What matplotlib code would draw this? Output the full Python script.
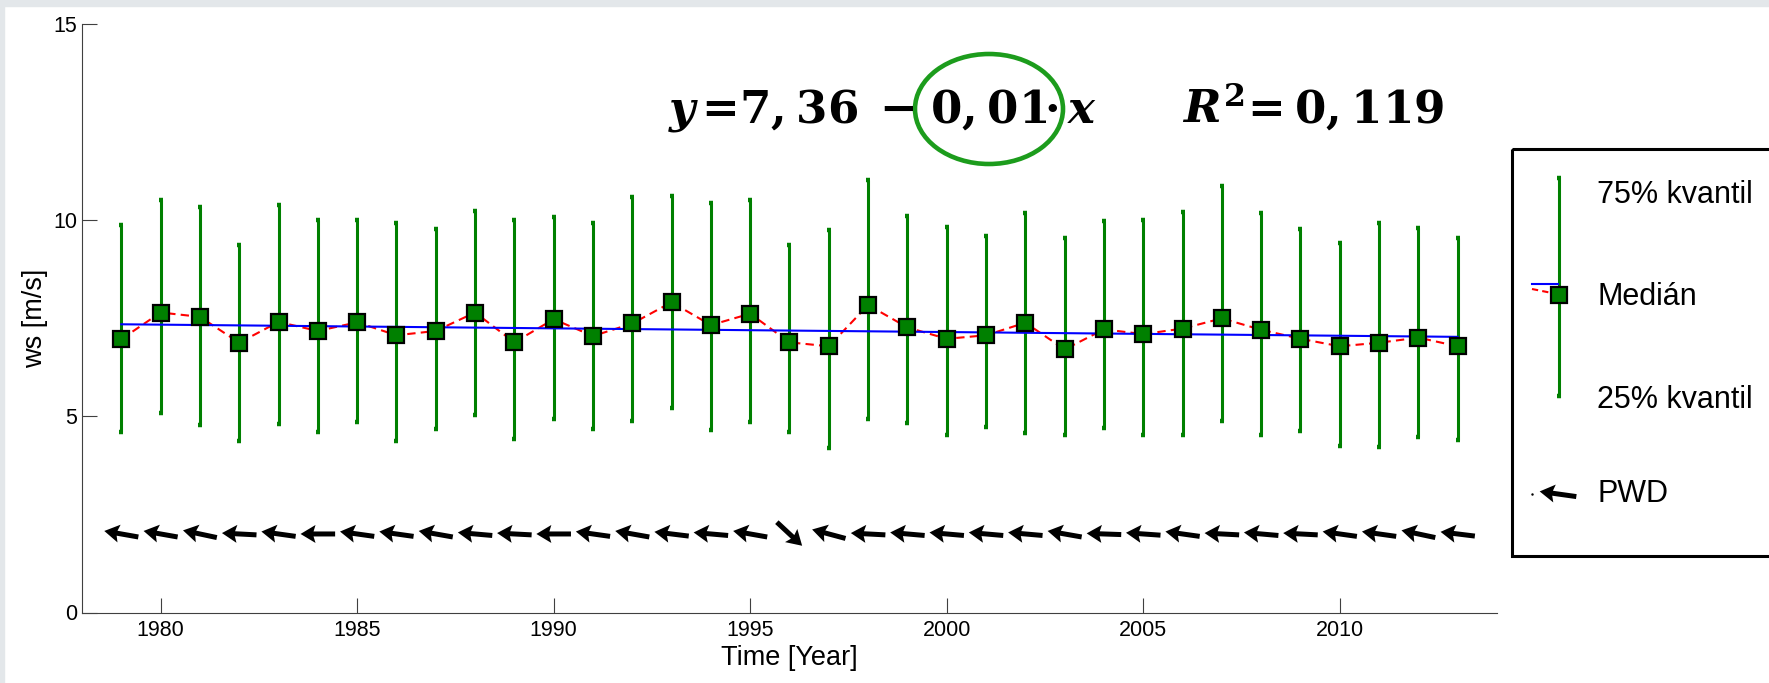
import matplotlib
matplotlib.use('Agg')
import matplotlib.pyplot as plt
import numpy as np
from matplotlib.patches import Rectangle, Ellipse

# data
years = list(range(1979, 2014))
q75 = [9.87, 10.50, 10.32, 9.36, 10.38, 10.00, 10.00, 9.93, 9.76, 10.23,
       10.00, 10.06, 9.92, 10.59, 10.61, 10.44, 10.50, 9.37, 9.74, 11.02,
       10.10, 9.83, 9.60, 10.18, 9.54, 9.98, 10.00, 10.20, 10.86, 10.18,
       9.77, 9.42, 9.91, 9.80, 9.53]
q25 = [4.59, 5.07, 4.77, 4.37, 4.80, 4.59, 4.86, 4.36, 4.67, 5.03,
       4.42, 4.94, 4.68, 4.88, 5.20, 4.64, 4.86, 4.59, 4.19, 4.93,
       4.82, 4.53, 4.72, 4.56, 4.53, 4.71, 4.53, 4.51, 4.88, 4.51,
       4.62, 4.24, 4.22, 4.48, 4.39]
median = [6.96, 7.64, 7.53, 6.87, 7.40, 7.17, 7.39, 7.06, 7.17, 7.64,
          6.88, 7.47, 7.04, 7.36, 7.90, 7.32, 7.61, 6.88, 6.78, 7.83,
          7.26, 6.97, 7.06, 7.38, 6.70, 7.21, 7.09, 7.23, 7.49, 7.20,
          6.97, 6.78, 6.87, 7.00, 6.78]
# prevailing wind direction, arrow angle in degrees (counterclockwise from east)
pwd_angle = [170, 170, 168, 177, 172, 180, 172, 172, 170, 175,
             177, 180, 172, 170, 173, 175, 170, -43, 165, 177,
             175, 175, 175, 175, 170, 178, 176, 172, 177, 175,
             177, 172, 172, 168, 173]
trend_years = [1979, 2013]
trend_vals = [7.34, 7.02]
# regression equation pieces: (text, x in px, horizontal alignment)
eq_parts = [(r'$y$', 668, 'left'), ('=', 720.5, 'center'), (r'$7,36$', 739, 'left'),
            ('\u2212', 898.5, 'center'), (r'$0,01$', 930, 'left'), ('\u00b7', 1052, 'center'),
            (r'$x$', 1067, 'left'), (r'$R^2$', 1182, 'left'), ('=', 1266.5, 'center'),
            (r'$0,119$', 1294, 'left')]
legend_labels = ['75% kvantil', 'Medián', '25% kvantil', 'PWD']

PWD_LEVEL = 2.0
ARROW_LEN = 0.88
GREEN = '#008000'
arrow_kw = dict(pivot='middle', units='dots', width=5, headwidth=3.6,
                headlength=3.0, headaxislength=2.6, color='black')

plt.rcParams['font.family'] = ['Liberation Sans', 'DejaVu Sans']
plt.rcParams['mathtext.fontset'] = 'custom'
plt.rcParams['mathtext.rm'] = 'DejaVu Serif:bold'
plt.rcParams['mathtext.it'] = 'DejaVu Serif:italic:bold'
plt.rcParams['mathtext.bf'] = 'DejaVu Serif:bold'

W, H = 1769, 683
fig = plt.figure(figsize=(W / 100, H / 100), dpi=100)
fig.patch.set_facecolor('white')
# thin grey frame of the screenshot
fig.patches.append(Rectangle((0, 1 - 6 / H), 1, 6 / H, transform=fig.transFigure,
                             color='#e3e7ea', zorder=0))
fig.patches.append(Rectangle((0, 0), 4 / W, 1, transform=fig.transFigure,
                             color='#e3e7ea', zorder=0))

ax = fig.add_axes([82 / W, 1 - 612.5 / H, (1497 - 82) / W, (612.5 - 23.5) / H])

yr = np.array(years)
med = np.array(median)
ax.errorbar(yr, med, yerr=[med - np.array(q25), np.array(q75) - med], fmt='none',
            ecolor=GREEN, elinewidth=2.2, capsize=1.7, capthick=3.2, zorder=2)
ax.plot(yr, med, color='red', lw=1.5, linestyle=(0, (4, 2.5)), zorder=3)
ax.plot(trend_years, trend_vals, color='blue', lw=1.5, zorder=3)
ax.plot(yr, med, 's', ms=11.5, mfc=GREEN, mec='black', mew=1.6, zorder=4)

ax.quiver(yr, np.full(len(yr), PWD_LEVEL), np.full(len(yr), ARROW_LEN), np.zeros(len(yr)),
          angles=pwd_angle, scale_units='x', scale=1, zorder=5, **arrow_kw)

ax.set_xlim(1978, 2014)
ax.set_ylim(0, 15)
ax.set_xticks([1980, 1985, 1990, 1995, 2000, 2005, 2010])
ax.set_yticks([0, 5, 10, 15])
ax.tick_params(direction='in', length=10.5, width=0.8, color='#404040', labelsize=15.5)
ax.tick_params(axis='x', pad=5.5)
ax.tick_params(axis='y', pad=3.5)
for s in ['top', 'right']:
    ax.spines[s].set_visible(False)
for s in ['left', 'bottom']:
    ax.spines[s].set_color('#404040')
    ax.spines[s].set_linewidth(0.8)
ax.set_xlabel('Time [Year]', fontsize=19.5, labelpad=3)
ax.set_ylabel('ws [m/s]', fontsize=19.5, labelpad=4)

# overlay in pixel coordinates for the legend, equation and highlight
ov = fig.add_axes([0, 0, 1, 1], facecolor='none')
ov.set_xlim(0, W)
ov.set_ylim(H, 0)
ov.axis('off')

for txt, x0, ha in eq_parts:
    ov.text(x0, 123, txt, fontsize=32.5, va='baseline', ha=ha,
            family='DejaVu Serif', weight='bold')
ov.add_patch(Ellipse((989, 109), 148, 110, fill=False, edgecolor='#1c9c1c', lw=3.3))

# legend box (clipped by the right edge)
ov.add_patch(Rectangle((1512, 149), 300, 407, fill=False, edgecolor='black', lw=2.2,
                       clip_on=False))
lx = 1558.7
ov.plot([lx, lx], [178, 396], color=GREEN, lw=2.2)
ov.plot([lx, lx], [178, 396], '_', color=GREEN, ms=3.4, mew=3.2)
ov.plot([1532, 1558], [284, 284], color='blue', lw=1.5)
ov.plot([1532, 1552], [289, 293], color='red', lw=1.5, linestyle=(0, (3, 2)))
ov.plot([lx], [295], 's', ms=11.5, mfc=GREEN, mec='black', mew=1.6)
ov.quiver([1558], [494], [37], [0], angles=[172], scale_units='x', scale=1, **arrow_kw)
ov.plot([1532], [494], '.', color='black', ms=1.5)
for lab, ty in zip(legend_labels, [195, 297, 400, 494]):
    ov.text(1597, ty, lab, fontsize=22, va='center', ha='left')

fig.savefig('out.png', dpi=100)
